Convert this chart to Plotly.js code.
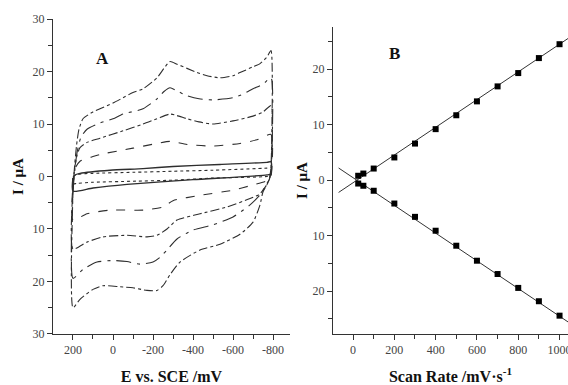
<!DOCTYPE html>
<html>
<head>
<meta charset="utf-8">
<script src="https://cdn.plot.ly/plotly-3.0.1.min.js"></script>
<style>html,body{margin:0;padding:0;background:#fff;}#chart{width:568px;height:385px;}</style>
</head>
<body>
<div id="chart"></div>
<script>
// ---------- Panel A: cyclic voltammograms (E / mV vs SCE, I / uA) ----------
const cv1E = [200, 200, 192, 182, 170, 150, 100, 65, 0, -50, -100, -150, -220, -255, -285, -320, -370, -420, -470, -535, -600, -635, -700, -735, -770, -790, -790, -782, -770, -750, -735, -700, -635, -535, -435, -335, -285, -250, -220, -170, -100, -35, 50, 100, 165, 200];
const cv1I = [-25, -3, 2, 6, 9, 11, 12.3, 12.9, 14, 15, 16, 16.7, 18.8, 20.6, 21.9, 21.4, 20.6, 19.8, 19.2, 18.8, 19.2, 19.8, 20.9, 21.5, 22.8, 24, 2, -0.5, -1.5, -2.9, -5.4, -8.7, -11, -12.9, -14, -16.3, -18.7, -20.8, -21.7, -21.7, -21.2, -21, -20.8, -21.5, -23.4, -25];

const cv2E = [200, 200, 190, 180, 160, 130, 65, 0, -50, -150, -220, -255, -285, -320, -370, -430, -500, -600, -650, -700, -750, -790, -790, -782, -770, -735, -685, -600, -500, -400, -320, -270, -235, -200, -135, -70, 0, 80, 150, 200];
const cv2I = [-19.4, -3, 1.5, 4.5, 7.5, 9, 10.2, 11, 11.9, 12.9, 14.8, 16.2, 16.9, 16.3, 15.4, 14.8, 14.6, 15, 15.7, 16.7, 17.6, 18.8, 1.5, -0.5, -1.3, -3.5, -5.4, -7.7, -9.2, -10.2, -11.9, -14, -15.4, -16.3, -16.7, -16.2, -16, -16.3, -17.7, -19.4];

const cv3E = [200, 200, 192, 180, 165, 130, 65, -50, -150, -220, -285, -320, -370, -430, -500, -600, -700, -750, -790, -790, -782, -770, -735, -685, -570, -435, -320, -270, -220, -170, -70, 50, 130, 200];
const cv3I = [-13.8, -2, 1.5, 4, 5.5, 6.5, 7.3, 8.7, 10, 11, 11.9, 11.6, 11, 10.4, 10, 10.6, 11.5, 12.3, 13.5, 1, -0.5, -1.5, -3.3, -4.2, -5.8, -7.1, -8.3, -10, -11.2, -11.5, -11.2, -11.5, -12.5, -13.8];

const cv4E = [200, 200, 190, 165, 100, 65, -100, -220, -285, -370, -500, -635, -720, -790, -790, -770, -700, -600, -435, -300, -250, -150, 15, 130, 200];
const cv4I = [-8.3, -1.5, 1.5, 2.9, 3.8, 4.2, 5.4, 6.3, 6.7, 6.1, 5.8, 6.3, 7, 8, 0.5, -0.8, -1.6, -2.6, -3.6, -4.6, -5.8, -6.4, -6.4, -7.1, -8.3];

const cv5E = [200, 200, 190, 165, 15, -150, -300, -535, -770, -790, -790, -770, -400, -70, 100, 200];
const cv5I = [-2.8, -0.5, 0.3, 0.6, 1.2, 1.5, 1.9, 2.3, 2.7, 2.8, 0.5, 0.3, -0.6, -1.5, -2.2, -2.8];

const cv6E = [200, 200, 180, 100, -100, -300, -500, -770, -790, -790, -770, -500, -300, -100, 100, 180, 200];
const cv6I = [-1.4, 0, 0.4, 0.6, 0.8, 1.0, 1.2, 1.6, 1.7, 0.2, 0, -0.3, -0.7, -0.9, -1.1, -1.3, -1.4];

// ---------- Panel B: peak current vs scan rate ----------
const scanRate = [25, 50, 100, 200, 300, 400, 500, 600, 700, 800, 900, 1000];
const ipUpper = [0.8, 1.2, 2.1, 4.1, 6.6, 9.2, 11.7, 14.2, 16.9, 19.3, 22.0, 24.5];
const ipLower = [-0.6, -1.0, -1.9, -4.2, -6.6, -9.1, -11.8, -14.5, -16.9, -19.4, -21.8, -24.4];
const fitRate = [-70, 1060];
const fitUpper = [-2.2, 26.0];
const fitLower = [2.2, -26.0];

// ---------- Tick labels ----------
const axAEvals = [200, 0, -200, -400, -600, -800];
const axAEtext = ['200', '0', '-200', '-400', '-600', '-800'];
const axAEminor = [100, -100, -300, -500, -700];
const axAIvals = [-30, -20, -10, 0, 10, 20, 30];
const axAItext = ['30', '20', '10', '0', '10', '20', '30'];
const axAIminor = [-25, -15, -5, 5, 15, 25];
const axBvvals = [0, 200, 400, 600, 800, 1000];
const axBvtext = ['0', '200', '400', '600', '800', '1000'];
const axBvminor = [100, 300, 500, 700, 900];
const axBIvals = [-20, -10, 0, 10, 20];
const axBItext = ['20', '10', '0', '10', '20'];
const axBIminor = [-25, -15, -5, 5, 15, 25];

const lineCol = '#2e2e2e';
const cvSets = [
  [cv1E, cv1I, 'dashdot'],
  [cv2E, cv2I, 'longdashdot'],
  [cv3E, cv3I, 'dashdot'],
  [cv4E, cv4I, 'dash'],
  [cv5E, cv5I, 'solid'],
  [cv6E, cv6I, 'dot']
];
const traces = cvSets.map((s, i) => ({
  type: 'scatter', mode: 'lines', x: s[0], y: s[1], xaxis: 'x', yaxis: 'y',
  line: {color: lineCol, width: i === 4 ? 1.4 : 1.1, dash: s[2], shape: 'spline', smoothing: 0.6},
  showlegend: false, hoverinfo: 'skip'
}));
traces.push({type: 'scatter', mode: 'lines', x: fitRate, y: fitUpper, xaxis: 'x2', yaxis: 'y2',
  line: {color: '#333', width: 1}, showlegend: false});
traces.push({type: 'scatter', mode: 'lines', x: fitRate, y: fitLower, xaxis: 'x2', yaxis: 'y2',
  line: {color: '#333', width: 1}, showlegend: false});
traces.push({type: 'scatter', mode: 'markers', x: scanRate, y: ipUpper, xaxis: 'x2', yaxis: 'y2',
  marker: {symbol: 'square', size: 6, color: '#000'}, showlegend: false});
traces.push({type: 'scatter', mode: 'markers', x: scanRate, y: ipLower, xaxis: 'x2', yaxis: 'y2',
  marker: {symbol: 'square', size: 6, color: '#000'}, showlegend: false});

const tickFont = {family: 'Liberation Serif, serif', size: 12, color: '#444'};
const titleFont = {family: 'Liberation Serif, serif', size: 16, color: '#111'};
const baseAxis = {
  showgrid: false, zeroline: false, showline: true, linecolor: '#333', linewidth: 1,
  ticks: 'outside', ticklen: 5, tickcolor: '#333', tickwidth: 1, tickfont: tickFont,
  tickmode: 'array', automargin: false, fixedrange: true, ticklabeloverflow: 'allow'
};
const minorOf = (vals) => ({tickmode: 'array', tickvals: vals, ticks: 'outside', ticklen: 4, tickcolor: '#333', showgrid: false});

const layout = {
  width: 568, height: 385, margin: {l: 0, r: 0, t: 0, b: 0},
  paper_bgcolor: '#fff', plot_bgcolor: '#fff', showlegend: false,
  xaxis: Object.assign({}, baseAxis, {
    domain: [0.0933, 0.5106], range: [300, -885], anchor: 'y',
    tickvals: axAEvals, ticktext: axAEtext, minor: minorOf(axAEminor),
    title: {text: '<b>E vs. SCE /mV</b>', font: titleFont, standoff: 16}
  }),
  yaxis: Object.assign({}, baseAxis, {
    domain: [0.1325, 0.9506], range: [-30, 30], anchor: 'x',
    tickvals: axAIvals, ticktext: axAItext, minor: minorOf(axAIminor),
    title: {text: '<b>I / μA</b>', font: Object.assign({}, titleFont, {size: 15}), standoff: 5}
  }),
  xaxis2: Object.assign({}, baseAxis, {
    domain: [0.5863, 1], range: [-97, 1041], anchor: 'y2',
    tickvals: axBvvals, ticktext: axBvtext, minor: minorOf(axBvminor),
    title: {text: '<b>Scan Rate /mV·s<sup>-1</sup></b>', font: titleFont, standoff: 16}
  }),
  yaxis2: Object.assign({}, baseAxis, {
    domain: [0.1325, 0.9299], range: [-27.7, 27.6], anchor: 'x2',
    tickvals: axBIvals, ticktext: axBItext, minor: minorOf(axBIminor),
    title: {text: '<b>I / μA</b>', font: Object.assign({}, titleFont, {size: 15}), standoff: 1}
  }),
  annotations: [
    {text: '<b>A</b>', xref: 'paper', yref: 'paper', x: 0.181, y: 0.849, xanchor: 'center', yanchor: 'middle', showarrow: false,
     font: {family: 'Liberation Serif, serif', size: 17, color: '#111'}},
    {text: '<b>B</b>', xref: 'paper', yref: 'paper', x: 0.695, y: 0.862, xanchor: 'center', yanchor: 'middle', showarrow: false,
     font: {family: 'Liberation Serif, serif', size: 17, color: '#111'}}
  ]
};

Plotly.newPlot('chart', traces, layout, {staticPlot: true, displayModeBar: false});
</script>
</body>
</html>
